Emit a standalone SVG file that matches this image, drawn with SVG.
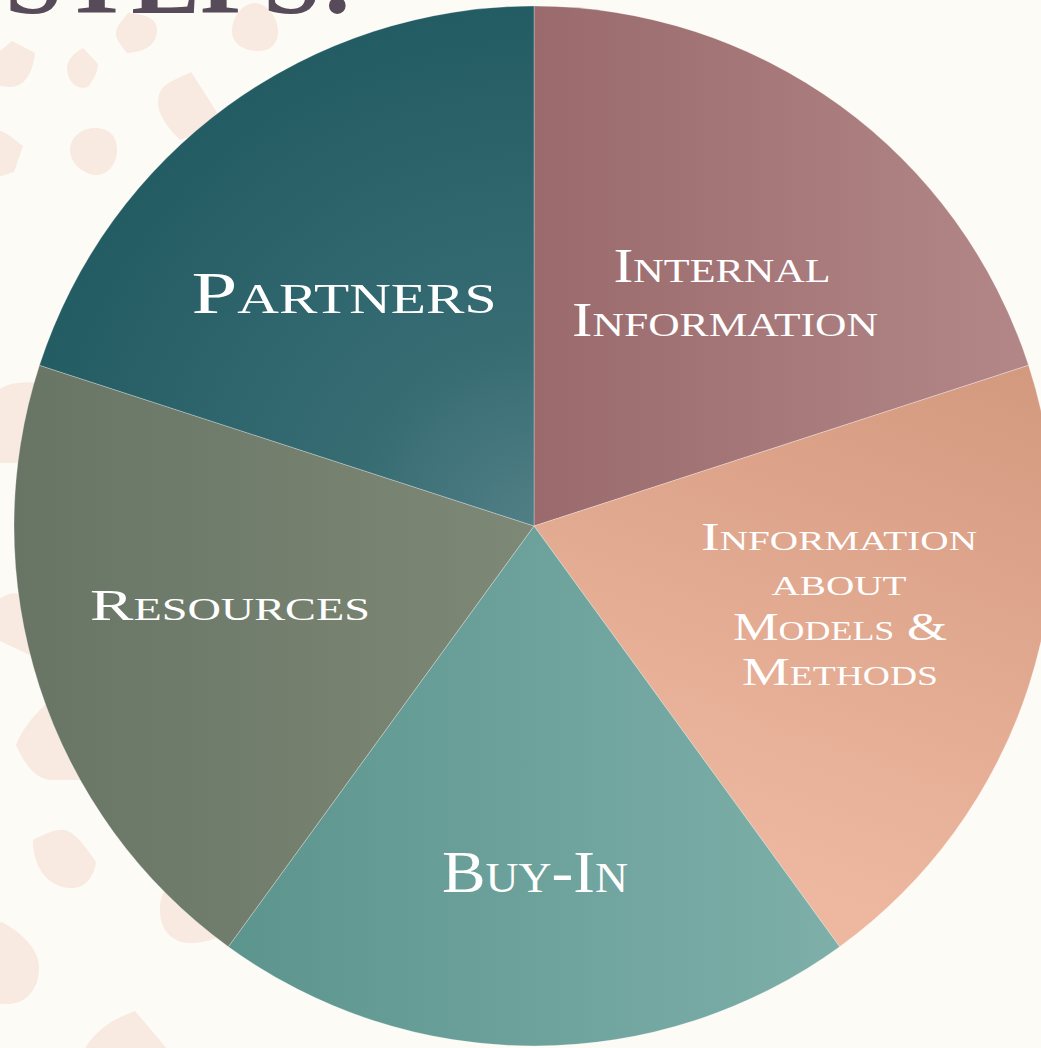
<svg xmlns="http://www.w3.org/2000/svg" width="1041" height="1048" viewBox="0 0 1041 1048">
<style>
.blob{fill:#f8e9e1}
.lbl{fill:#ffffff;font-family:"Liberation Serif","DejaVu Serif",serif;font-variant:small-caps;text-anchor:middle}
.seg{stroke:rgba(255,255,255,0.35);stroke-width:0.8}
</style>
<defs>
<radialGradient id="gPartners" gradientUnits="userSpaceOnUse" cx="534" cy="526" r="520">
<stop offset="0" stop-color="#527f86"/>
<stop offset="0.35" stop-color="#376c73"/>
<stop offset="1" stop-color="#245c64"/>
</radialGradient>
<linearGradient id="gInternal" gradientUnits="userSpaceOnUse" x1="534" y1="300" x2="1030" y2="300">
<stop offset="0" stop-color="#9a6a6c"/>
<stop offset="1" stop-color="#b38788"/>
</linearGradient>
<linearGradient id="gModels" gradientUnits="userSpaceOnUse" x1="1010" y1="370" x2="820" y2="900">
<stop offset="0" stop-color="#d49a80"/>
<stop offset="1" stop-color="#eeb8a0"/>
</linearGradient>
<linearGradient id="gBuyIn" gradientUnits="userSpaceOnUse" x1="230" y1="800" x2="840" y2="800">
<stop offset="0" stop-color="#5c958e"/>
<stop offset="1" stop-color="#7eafa9"/>
</linearGradient>
<linearGradient id="gResources" gradientUnits="userSpaceOnUse" x1="15" y1="600" x2="534" y2="600">
<stop offset="0" stop-color="#687565"/>
<stop offset="1" stop-color="#7e8876"/>
</linearGradient>
</defs>
<rect x="0" y="0" width="1041" height="1048" fill="#fdfbf6"/>
<g id="background-blobs">
<path class="blob" d="M-5,55 L12,41 L35,53 C33,72 25,87 10,87 C2,87 -5,85 -5,80 Z"/>
<path class="blob" d="M83,48 L98,64 C98,72 93,80 88,87 C78,90 69,84 67,70 C66,60 74,53 83,48 Z"/>
<path class="blob" d="M128,13 C145,14 157,18 157,30 C157,45 145,52 127,53 C120,44 115,38 116,32 C117,25 123,20 128,13 Z"/>
<path class="blob" d="M255,3 C268,4 278,18 278,32 C278,44 270,51 258,51 C244,51 232,44 232,31 C232,18 242,3 255,3 Z"/>
<path class="blob" d="M191,72 L225,125 L180,140 C168,128 158,115 158,102 C158,90 165,85 172,81 Z"/>
<path class="blob" d="M-2,130 C8,133 15,140 23,146 L14,172 L-2,177 Z"/>
<path class="blob" d="M95,128 C110,128 117,137 117,150 C117,164 108,175 96,175 C83,175 70,162 70,150 C70,137 82,128 95,128 Z"/>
<path class="blob" d="M-2,390 C8,383 22,381 40,383 L40,463 L-2,463 Z"/>
<path class="blob" d="M-2,600 C5,594 14,592 22,594 L40,620 L40,660 L30,655 L-2,640 Z"/>
<path class="blob" d="M45,705 L100,700 L100,780 L50,780 C35,778 25,765 16,745 C22,730 32,717 45,705 Z"/>
<path class="blob" d="M33,840 C45,834 55,829 65,830 C75,832 88,850 96,862 C94,878 84,888 72,888 C50,888 33,870 33,840 Z"/>
<path class="blob" d="M2,922 C20,932 39,948 39,968 C39,990 25,1004 8,1004 L-2,1004 L-2,923 Z"/>
<path class="blob" d="M165,890 L220,880 L217,938 C205,942 198,943 190,943 C172,943 160,930 160,910 C160,900 162,895 165,890 Z"/>
<path class="blob" d="M135,1011 L168,1050 L84,1050 C95,1030 115,1018 135,1011 Z"/>
</g>
<text x="5" y="13" font-family="'Liberation Serif','DejaVu Serif',serif" font-weight="bold" font-size="103" fill="#574b5a" textLength="350" lengthAdjust="spacingAndGlyphs">STEPS:</text>
<g id="node-internal-information">
<path class="seg" fill="url(#gInternal)" d="M534,526 L534,6 A520,520 0 0 1 1028.55,365.31 Z"/>
<text class="lbl" font-size="48" x="722" y="282" textLength="217" lengthAdjust="spacingAndGlyphs">Internal</text>
<text class="lbl" font-size="48" x="725" y="336" textLength="306" lengthAdjust="spacingAndGlyphs">Information</text>
</g>
<g id="node-models-methods">
<path class="seg" fill="url(#gModels)" d="M534,526 L1028.55,365.31 A520,520 0 0 1 839.65,946.69 Z"/>
<text class="lbl" font-size="40" x="839" y="550" textLength="276" lengthAdjust="spacingAndGlyphs">Information</text>
<text class="lbl" font-size="40" x="839" y="595" textLength="135" lengthAdjust="spacingAndGlyphs">about</text>
<text class="lbl" font-size="40" x="840" y="640" textLength="214" lengthAdjust="spacingAndGlyphs">Models &amp;</text>
<text class="lbl" font-size="40" x="840" y="685" textLength="196" lengthAdjust="spacingAndGlyphs">Methods</text>
</g>
<g id="node-buy-in">
<path class="seg" fill="url(#gBuyIn)" d="M534,526 L839.65,946.69 A520,520 0 0 1 228.35,946.69 Z"/>
<text class="lbl" font-size="60" x="535" y="892" textLength="186" lengthAdjust="spacingAndGlyphs">Buy-In</text>
</g>
<g id="node-resources">
<path class="seg" fill="url(#gResources)" d="M534,526 L228.35,946.69 A520,520 0 0 1 39.45,365.31 Z"/>
<text class="lbl" font-size="45" x="230" y="620" textLength="280" lengthAdjust="spacingAndGlyphs">Resources</text>
</g>
<g id="node-partners">
<path class="seg" fill="url(#gPartners)" d="M534,526 L39.45,365.31 A520,520 0 0 1 534,6 Z"/>
<text class="lbl" font-size="60" x="344" y="313" textLength="305" lengthAdjust="spacingAndGlyphs">Partners</text>
</g>
</svg>
